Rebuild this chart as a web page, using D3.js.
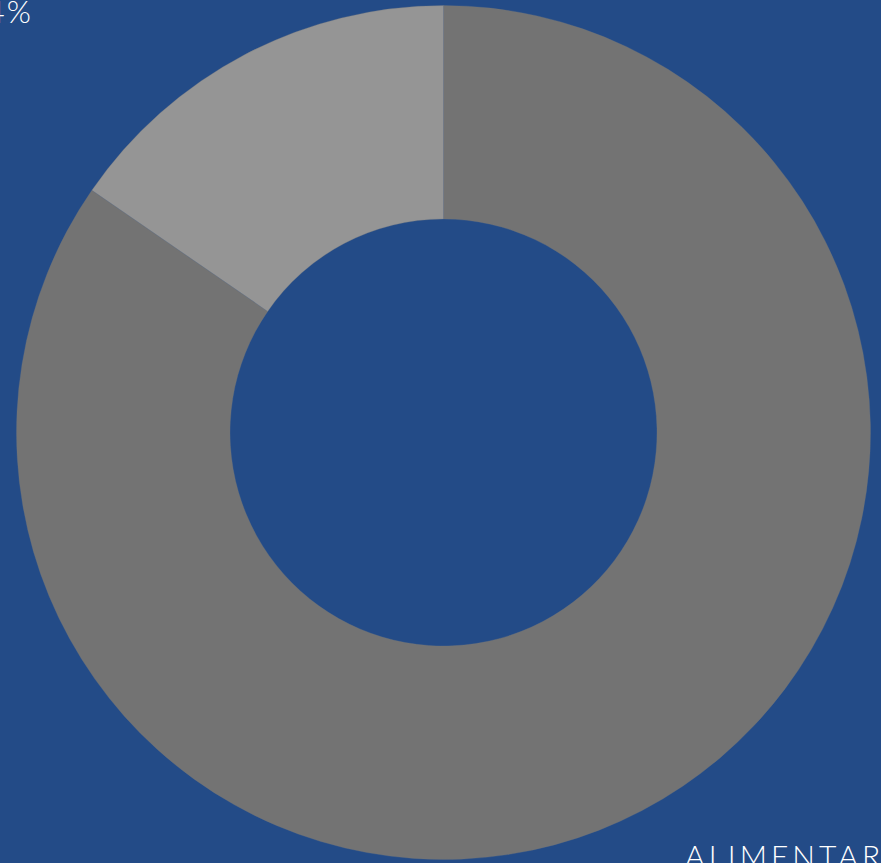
<!DOCTYPE html>
<html><head><meta charset="utf-8">
<script src="https://cdn.jsdelivr.net/npm/d3@7"></script>
<style>html,body{margin:0;padding:0;background:#234b87;overflow:hidden}</style>
</head><body>
<script>
const categories = ["ALIMENTAR", "OUTROS"];
const values = [84.6, 15.4];
const valueLabels = ["84,6%", "15,4%"];
const colors = ["#737373", "#959595"];

const W = 881, H = 863;
const svg = d3.select("body").append("svg").attr("width", W).attr("height", H);
svg.append("rect").attr("width", W).attr("height", H).attr("fill", "#234b87");
const cx = 443.5, cy = 432.5, R = 427, r = 213.5;
const g = svg.append("g").attr("transform", `translate(${cx},${cy})`);
const pie = d3.pie().sort(null).value(d => d)(values);
const arc = d3.arc().innerRadius(r).outerRadius(R);
g.selectAll("path").data(pie).join("path")
  .attr("d", arc).attr("fill", (d, i) => colors[i])
  .attr("stroke", "#6e7580").attr("stroke-width", 0.6).attr("stroke-opacity", 0.5);

// labels (partially cropped in reference)
svg.append("text").attr("x", 33).attr("y", 23).attr("text-anchor", "end")
  .attr("font-family", "Lato").attr("font-weight", 300).attr("font-size", 31)
  .attr("letter-spacing", 2).attr("fill", "#fff").text(valueLabels[1]);
svg.append("text").attr("x", 685).attr("y", 867).attr("text-anchor", "start")
  .attr("font-family", "Lato").attr("font-weight", 300).attr("font-size", 30)
  .attr("letter-spacing", 4).attr("fill", "#fff").text(categories[0]);
</script>
</body></html>
